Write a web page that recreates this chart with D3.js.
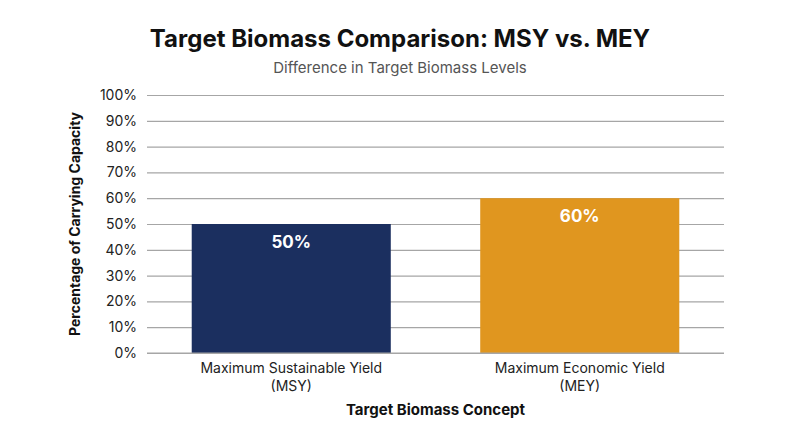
<!DOCTYPE html>
<html>
<head>
<meta charset="utf-8">
<script src="https://cdn.jsdelivr.net/npm/d3@7"></script>
<style>
  body { margin: 0; background: #fff; }
  svg { font-family: "Inter", "Lato", sans-serif; }
</style>
</head>
<body>
<div id="chart"></div>
<script>
// data
const concepts = ["Maximum Sustainable Yield (MSY)", "Maximum Economic Yield (MEY)"]
const conceptLines = [["Maximum Sustainable Yield", "(MSY)"], ["Maximum Economic Yield", "(MEY)"]]
const targetBiomass = [50, 60]
const barColors = ["#1b2f5f", "#e0961f"]
const yTicks = [0, 10, 20, 30, 40, 50, 60, 70, 80, 90, 100]

const width = 800, height = 447
const margin = {top: 95, right: 76, bottom: 94, left: 147}
const innerW = width - margin.left - margin.right
const innerH = height - margin.top - margin.bottom

const svg = d3.select("#chart").append("svg")
  .attr("width", width)
  .attr("height", height)

svg.append("text")
  .attr("x", width / 2).attr("y", 47)
  .attr("text-anchor", "middle")
  .attr("font-size", 24).attr("font-weight", 700).attr("fill", "#111")
  .text("Target Biomass Comparison: MSY vs. MEY")

svg.append("text")
  .attr("x", width / 2).attr("y", 73)
  .attr("text-anchor", "middle")
  .attr("font-size", 15).attr("fill", "#555")
  .text("Difference in Target Biomass Levels")

const g = svg.append("g").attr("transform", `translate(${margin.left},${margin.top})`)

const x = d3.scaleBand().domain(concepts).range([0, innerW])
  .paddingInner(0.31).paddingOuter(0.155)
const y = d3.scaleLinear().domain([0, 100]).range([innerH, 0])

// gridlines + tick labels
g.append("g")
  .call(d3.axisLeft(y).tickValues(yTicks).tickSize(-innerW).tickFormat(d => d + "%"))
  .call(a => a.select(".domain").remove())
  .call(a => a.selectAll("line").attr("stroke", "#a6a6a6").attr("stroke-width", 1.2))
  .call(a => a.selectAll("text").attr("x", -10).attr("font-size", 14).attr("fill", "#222")
    .attr("font-family", "Inter, Lato, sans-serif"))

g.selectAll(".bar")
  .data(concepts)
  .enter().append("rect")
    .attr("class", "bar")
    .attr("x", d => x(d))
    .attr("width", x.bandwidth())
    .attr("y", (d, i) => y(targetBiomass[i]))
    .attr("height", (d, i) => innerH - y(targetBiomass[i]))
    .attr("fill", (d, i) => barColors[i])

g.selectAll(".bar-label")
  .data(concepts)
  .enter().append("text")
    .attr("class", "bar-label")
    .attr("x", d => x(d) + x.bandwidth() / 2)
    .attr("y", (d, i) => y(targetBiomass[i]) + 24)
    .attr("text-anchor", "middle")
    .attr("font-size", 17).attr("font-weight", 700).attr("fill", "#fff")
    .text((d, i) => targetBiomass[i] + "%")

// bottom axis line
g.append("line")
  .attr("x1", 0).attr("x2", innerW)
  .attr("y1", innerH).attr("y2", innerH)
  .attr("stroke", "#a6a6a6").attr("stroke-width", 1.2)

// category labels on two lines
const cat = g.selectAll(".cat")
  .data(concepts)
  .enter().append("text")
    .attr("class", "cat")
    .attr("text-anchor", "middle")
    .attr("font-size", 14).attr("fill", "#222")
cat.selectAll("tspan")
  .data((d, i) => conceptLines[i].map(t => ({t, c: d})))
  .enter().append("tspan")
    .attr("x", d => x(d.c) + x.bandwidth() / 2)
    .attr("y", (d, j) => innerH + 20 + j * 18)
    .text(d => d.t)

svg.append("text")
  .attr("x", margin.left + innerW / 2).attr("y", 415)
  .attr("text-anchor", "middle")
  .attr("font-size", 15).attr("font-weight", 700).attr("fill", "#111")
  .text("Target Biomass Concept")

svg.append("text")
  .attr("transform", `translate(80,${margin.top + innerH / 2}) rotate(-90)`)
  .attr("text-anchor", "middle")
  .attr("font-size", 14).attr("font-weight", 700).attr("fill", "#111")
  .text("Percentage of Carrying Capacity")
</script>
</body>
</html>
